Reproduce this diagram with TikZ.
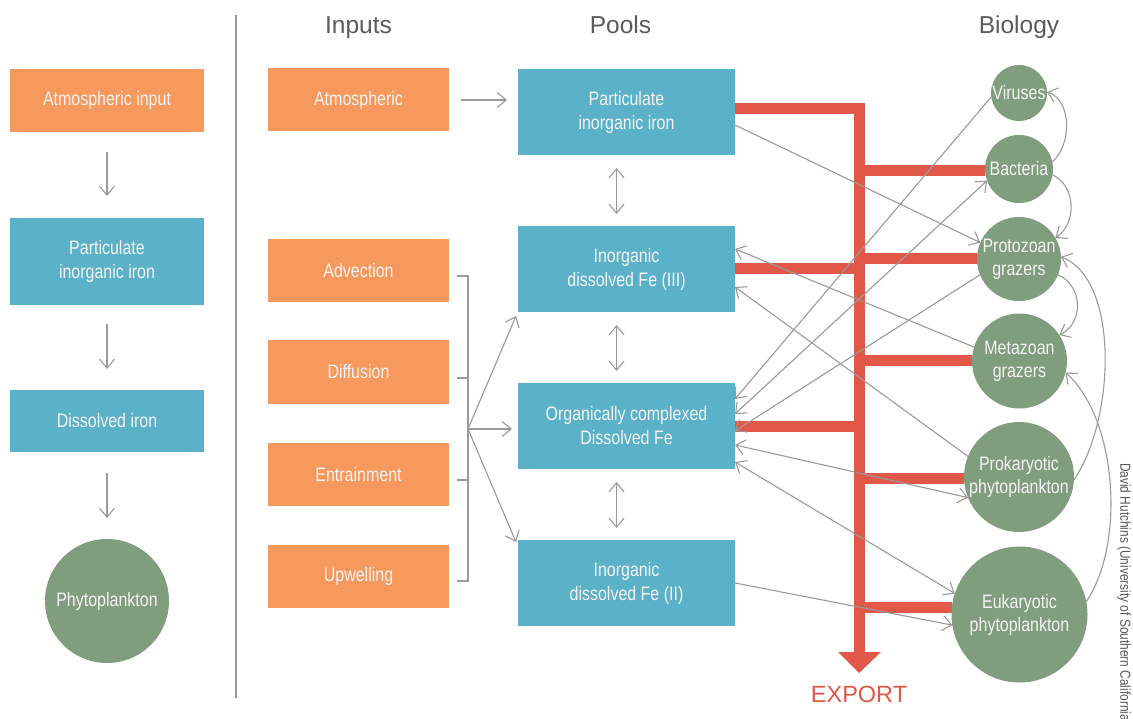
\documentclass[tikz,border=0pt]{standalone}
\usepackage{fontspec}
\setmainfont{Liberation Sans}
\newfontfamily\condfont[FakeStretch=0.82]{Liberation Sans}
\usetikzlibrary{arrows.meta,calc}
\definecolor{orng}{HTML}{F7995C}
\definecolor{blu}{HTML}{5BB1C8}
\definecolor{grn}{HTML}{809D7D}
\definecolor{redx}{HTML}{E15848}
\definecolor{gline}{HTML}{9A9A9A}
\definecolor{hdr}{HTML}{5A5A5A}
\definecolor{btxt}{HTML}{F4F4F4}
\pgfdeclarelayer{bg}
\pgfsetlayers{bg,main}
\begin{document}
\begin{tikzpicture}[x=1pt,y=-1pt,
  box/.style={rectangle, inner sep=0pt, outer sep=0pt, align=center, text=btxt,
    font=\condfont\fontsize{19.5}{24}\selectfont},
  obox/.style={box, fill=orng},
  bbox/.style={box, fill=blu},
  cnode/.style={circle, fill=grn, inner sep=0pt, outer sep=0pt, align=center, text=btxt,
    font=\condfont\fontsize{19.5}{23}\selectfont},
  garr/.style={draw=gline, line width=1.1pt, -{Straight Barb[length=9pt,width=15pt]}},
  gdbl/.style={draw=gline, line width=1.1pt, {Straight Barb[length=9pt,width=15pt]}-{Straight Barb[length=9pt,width=15pt]}},
  gln/.style={draw=gline, line width=1.1pt},
  rline/.style={draw=redx, line width=11pt},
  hdrtxt/.style={text=hdr, font=\fontsize{24.5}{28}\selectfont, anchor=base, inner sep=0pt}
]
\useasboundingbox (0,0) rectangle (1133,719);
\begin{pgfonlayer}{bg}
\fill[white] (0,0) rectangle (1133,719);
\end{pgfonlayer}

% headers
\node[hdrtxt] (hIn) at (358.5,34) {Inputs};
\node[hdrtxt] (hPo) at (620.5,34) {Pools};
\node[hdrtxt] (hBi) at (1019,34) {Biology};

% left column
\node[obox, minimum width=194pt, minimum height=63pt] (L1) at (107,100.5) {Atmospheric input};
\node[bbox, minimum width=194pt, minimum height=87pt] (L2) at (107,261.5) {Particulate\\inorganic iron};
\node[bbox, minimum width=194pt, minimum height=62pt] (L3) at (107,421) {Dissolved iron};
\node[cnode, minimum size=124pt] (L4) at (107,601) {Phytoplankton};
\draw[garr, shorten <=20pt, shorten >=22pt] (L1.south) -- (L2.north);
\draw[garr, shorten <=19pt, shorten >=21pt] (L2.south) -- (L3.north);
\draw[garr, shorten <=21pt, shorten >=21pt] (L3.south) -- (L4.north);

% divider
\coordinate (dT) at (236,15);
\coordinate (dB) at (236,698);
\draw[gln] (dT) -- (dB);

% inputs
\node[obox, minimum width=181pt, minimum height=63pt] (IA) at (358.5,100) {Atmospheric};
\node[obox, minimum width=181pt, minimum height=63pt] (IB) at (358.5,270.5) {Advection};
\node[obox, minimum width=181pt, minimum height=63pt] (IC) at (358.5,372) {Diffusion};
\node[obox, minimum width=181pt, minimum height=63pt] (ID) at (358.5,474.5) {Entrainment};
\node[obox, minimum width=181pt, minimum height=63pt] (IE) at (358.5,576) {Upwelling};

% pools
\node[bbox, minimum width=217pt, minimum height=86pt] (P1) at (626.5,112) {Particulate\\inorganic iron};
\node[bbox, minimum width=217pt, minimum height=86pt] (P2) at (626.5,269) {Inorganic\\dissolved Fe (III)};
\node[bbox, minimum width=217pt, minimum height=86pt] (P3) at (626.5,426) {Organically complexed\\Dissolved Fe};
\node[bbox, minimum width=217pt, minimum height=86pt] (P4) at (626.5,583) {Inorganic\\dissolved Fe (II)};

% biology
\node[cnode, minimum size=56pt] (B1) at (1019,93) {Viruses};
\node[cnode, minimum size=68pt] (B2) at (1019,169) {Bacteria};
\node[cnode, minimum size=84pt] (B3) at (1019,259) {Protozoan\\grazers};
\node[cnode, minimum size=95pt] (B4) at (1019.5,361) {Metazoan\\grazers};
\node[cnode, minimum size=110pt] (B5) at (1019,477) {Prokaryotic\\phytoplankton};
\node[cnode, minimum size=136pt] (B6) at (1019.5,614.5) {Eukaryotic\\phytoplankton};

% export trunk (background)
\coordinate (trT) at (859,108.5);
\coordinate (trB) at (859,652);
\begin{pgfonlayer}{bg}
\draw[rline, line join=miter] (P1.east |- trT) -- (trT) -- (trB);
\draw[rline] (P2.east) -- (P2.east -| trT);
\draw[rline] (P3.east) -- (P3.east -| trT);
\draw[rline] (B2.183 -| trT) -- (B2.183);
\draw[rline] (B3.west -| trT) -- (B3.west);
\draw[rline] (B4.west -| trT) -- (B4.west);
\draw[rline] (B5.182 -| trT) -- (B5.182);
\draw[rline] (B6.174 -| trT) -- (B6.174);
\end{pgfonlayer}
\fill[redx] ([xshift=-21pt]trB) -- ([xshift=22pt]trB) -- ($(trB)+(0,21)$) -- cycle;
\node[text=redx, font=\fontsize{23.5}{28}\selectfont, anchor=base, inner sep=0pt] (exp) at (859,702) {EXPORT};

% input arrows
\draw[garr, shorten <=12pt, shorten >=11pt] (IA.east) -- (IA.east -| P1.west);
\coordinate (hub) at (468,429);
\draw[gln] (457,276) -- (468,276) -- (468,581) -- (457,581);
\draw[gln] (457,378) -- (468,378);
\draw[gln] (457,480) -- (468,480);
\draw[garr] (hub) -- ([shift={(-2,4)}]P2.south west);
\draw[garr, shorten >=6pt] (hub) -- (hub -| P3.west);
\draw[garr] (hub) -- ([shift={(-2,2)}]P4.north west);

% pool exchanges
\draw[gdbl, shorten <=13pt, shorten >=12pt] ([xshift=-10pt]P1.south) -- ([xshift=-10pt]P2.north);
\draw[gdbl, shorten <=13pt, shorten >=12pt] ([xshift=-10pt]P2.south) -- ([xshift=-10pt]P3.north);
\draw[gdbl, shorten <=13pt, shorten >=12pt] ([xshift=-10pt]P3.south) -- ([xshift=-10pt]P4.north);

% pool-biology links
\draw[garr] (P1.east |- 0,125) -- (B3.157);
\draw[garr] (B1.188) -- (P3.east |- 0,399);
\draw[gdbl] (B2.200) -- (P3.east |- 0,414);
\draw[garr] (B3.202) -- (P3.east |- 0,431);
\draw[garr] (B4.163) -- (P2.east |- 0,249);
\draw[garr] (B5.158) -- (P2.east |- 0,287);
\draw[gdbl] (P3.east |- 0,445) -- (B5.202);
\draw[gdbl] (P3.east |- 0,462) -- (B6.162);
\draw[garr] (P4.east |- 0,583) -- (B6.189);

% food-web curves
\draw[garr] (B2.12) .. controls (1072,145) and (1072,100) .. (B1.2);
\draw[garr] (B2.-10) .. controls (1075,185) and (1078,222) .. (B3.30);
\draw[garr] (B3.-22) .. controls (1082,285) and (1085,322) .. (B4.33);
\draw[garr] (B6.11) .. controls (1125,545) and (1118,420) .. (B4.-14);
\draw[garr] (B5.-3) .. controls (1115,420) and (1120,280) .. (B3.3);

% credit
\node[rotate=-90, anchor=west, inner sep=0pt, text=hdr,
  font=\condfont\fontsize{14.5}{17}\selectfont] (cred) at (1124,463)
  {David Hutchins (University of Southern California};
\end{tikzpicture}
\end{document}
